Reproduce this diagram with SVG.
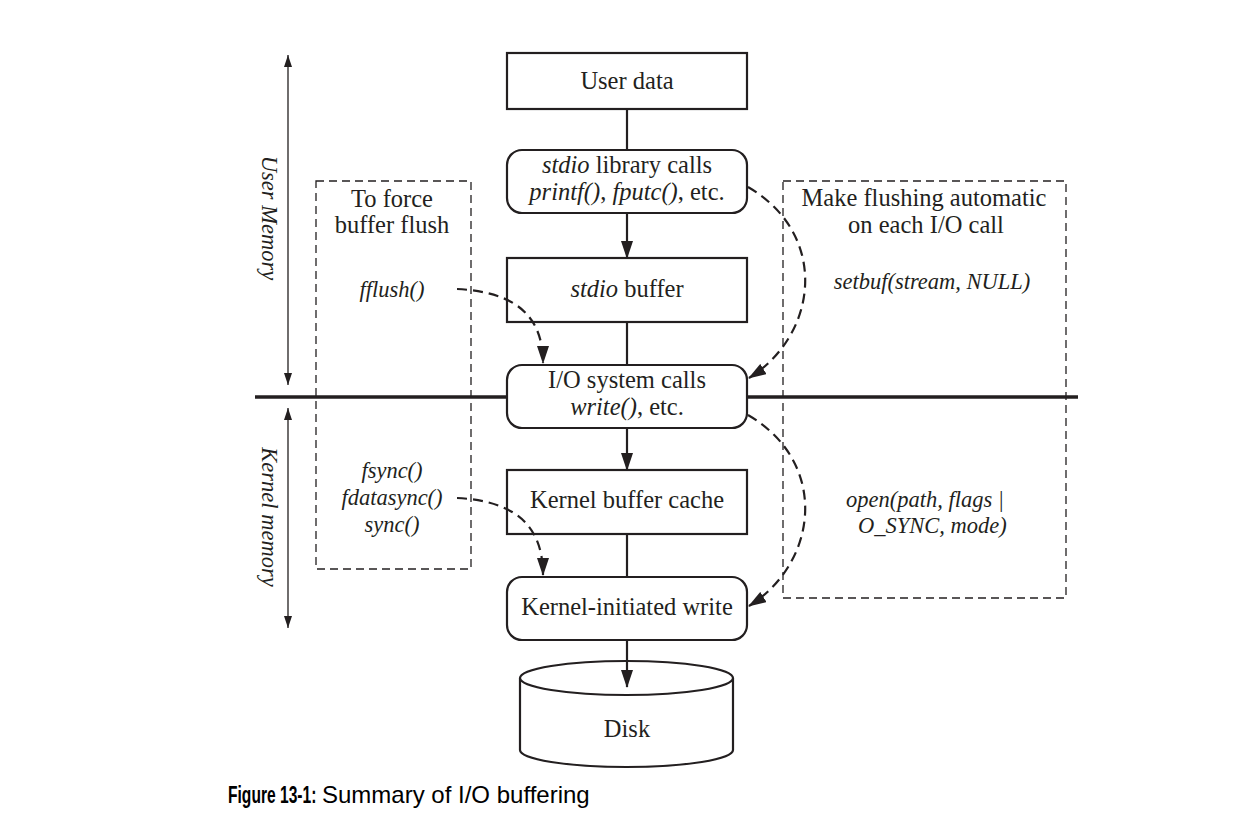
<svg xmlns="http://www.w3.org/2000/svg" width="1253" height="821" viewBox="0 0 1253 821">
<style>
  .t { font-family: "Liberation Serif", "Times New Roman", serif; font-size: 24.5px; fill: #231f20; text-anchor: middle; }
  .i { font-style: italic; }
  .ti { font-family: "Liberation Serif", "Times New Roman", serif; font-size: 22.5px; font-style: italic; fill: #231f20; }
  .box { fill: #ffffff; stroke: #231f20; stroke-width: 2.2; }
  .dbox { fill: none; stroke: #231f20; stroke-width: 1.3; stroke-dasharray: 8 5; }
  .solid { fill: none; stroke: #231f20; stroke-width: 2.2; }
  .dash { fill: none; stroke: #231f20; stroke-width: 2.2; stroke-dasharray: 10 6; }
  .thin { fill: none; stroke: #231f20; stroke-width: 1.3; }
  .cap { font-family: "Liberation Sans", Arial, sans-serif; font-size: 24px; fill: #000000; }
</style>
<defs>
  <marker id="ah" markerUnits="userSpaceOnUse" viewBox="0 0 18 12" markerWidth="18" markerHeight="12" refX="17" refY="6" orient="auto">
    <path d="M0,0 L18,6 L0,12 z" fill="#231f20"/>
  </marker>
  <marker id="sa" markerUnits="userSpaceOnUse" viewBox="0 0 12 8" markerWidth="12" markerHeight="8" refX="12" refY="4" orient="auto-start-reverse">
    <path d="M0,0 L12,4 L0,8 z" fill="#231f20"/>
  </marker>
</defs>
<rect width="1253" height="821" fill="#ffffff"/>

<!-- dashed grouping boxes -->
<g id="flush-box">
  <rect class="dbox" x="316" y="181" width="155" height="388"/>
  <text class="t" x="392" y="207">To force</text>
  <text class="t" x="392" y="233">buffer flush</text>
  <text class="ti" x="392" y="297" text-anchor="middle">fflush()</text>
  <text class="ti" x="392" y="478" text-anchor="middle">fsync()</text>
  <text class="ti" x="392" y="505" text-anchor="middle">fdatasync()</text>
  <text class="ti" x="392" y="532" text-anchor="middle">sync()</text>
</g>
<g id="auto-box">
  <rect class="dbox" x="783" y="181" width="283" height="417"/>
  <text class="t" x="924" y="206">Make flushing automatic</text>
  <text class="t" x="926" y="233">on each I/O call</text>
  <text class="ti" x="932" y="289" text-anchor="middle">setbuf(stream, NULL)</text>
  <text class="ti" x="846" y="507">open(path, flags |</text>
  <text class="ti" x="858" y="533">O_SYNC, mode)</text>
</g>

<!-- memory region markers -->
<g id="regions">
  <line x1="255" y1="397" x2="1078" y2="397" stroke="#231f20" stroke-width="3.5"/>
  <path class="thin" d="M288,55 V385" marker-start="url(#sa)" marker-end="url(#sa)"/>
  <path class="thin" d="M288,408 V628" marker-start="url(#sa)" marker-end="url(#sa)"/>
  <text class="ti" transform="translate(262,218) rotate(90)" text-anchor="middle" font-size="21">User Memory</text>
  <text class="ti" transform="translate(262,517) rotate(90)" text-anchor="middle" font-size="21">Kernel memory</text>
</g>

<!-- nodes -->
<g id="user-data">
  <rect class="box" x="507" y="53" width="240" height="56"/>
  <text class="t" x="627" y="89">User data</text>
</g>
<g id="stdio-calls">
  <rect class="box" x="507" y="150" width="240" height="63" rx="15" ry="15"/>
  <text class="t" x="627" y="173"><tspan class="i">stdio</tspan> library calls</text>
  <text class="t" x="627" y="200"><tspan class="i">printf()</tspan>, <tspan class="i">fputc()</tspan>, etc.</text>
</g>
<g id="stdio-buffer">
  <rect class="box" x="507" y="258" width="240" height="64"/>
  <text class="t" x="627" y="297"><tspan class="i">stdio</tspan> buffer</text>
</g>
<g id="io-calls">
  <rect class="box" x="507" y="365" width="240" height="63" rx="15" ry="15"/>
  <text class="t" x="627" y="388">I/O system calls</text>
  <text class="t" x="627" y="415"><tspan class="i">write()</tspan>, etc.</text>
</g>
<g id="kernel-cache">
  <rect class="box" x="507" y="470" width="240" height="64"/>
  <text class="t" x="627" y="508">Kernel buffer cache</text>
</g>
<g id="kernel-write">
  <rect class="box" x="507" y="577" width="240" height="63" rx="15" ry="15"/>
  <text class="t" x="627" y="615">Kernel-initiated write</text>
</g>
<g id="disk">
  <path class="box" d="M520,678 V750 A106.5,17 0 0 0 733,750 V678"/>
  <ellipse class="box" cx="626.5" cy="678" rx="106.5" ry="17"/>
  <text class="t" x="627" y="737">Disk</text>
</g>

<!-- connectors -->
<g id="connectors">
  <path class="solid" d="M627,109 V150"/>
  <path class="solid" d="M627,213 V258" marker-end="url(#ah)"/>
  <path class="solid" d="M627,322 V365"/>
  <path class="solid" d="M627,428 V470" marker-end="url(#ah)"/>
  <path class="solid" d="M627,534 V577"/>
  <path class="solid" d="M627,640 V687" marker-end="url(#ah)"/>
  <path class="dash" d="M457,289 C518,292 543,318 543,363" marker-end="url(#ah)"/>
  <path class="dash" d="M457,498 C518,501 543,528 543,575" marker-end="url(#ah)"/>
  <path class="dash" d="M748,187 C830,235 818,335 749,378" marker-end="url(#ah)"/>
  <path class="dash" d="M748,415 C830,463 818,563 749,606" marker-end="url(#ah)"/>
</g>

<!-- caption -->
<g id="caption">
  <g transform="translate(228,803) scale(0.65,1)">
    <text class="cap" x="0" y="0" font-weight="bold">Figure 13-1:</text>
  </g>
  <text class="cap" x="322" y="803">Summary of I/O buffering</text>
</g>
</svg>
